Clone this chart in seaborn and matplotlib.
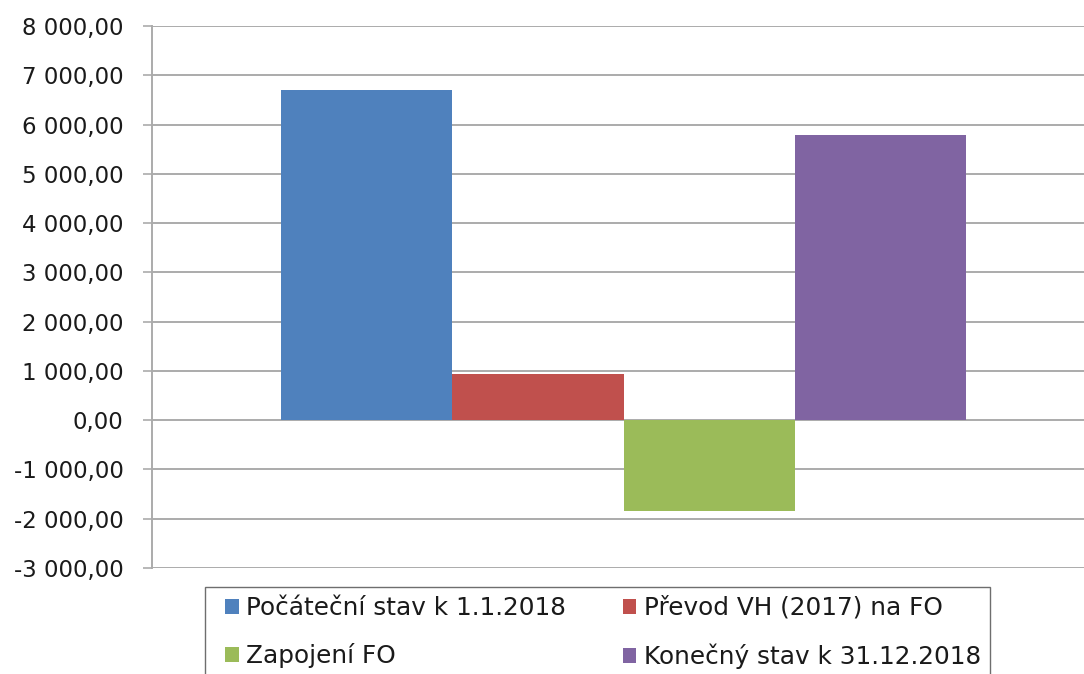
import pandas as pd
import matplotlib
matplotlib.use('Agg')
import matplotlib.pyplot as plt
from matplotlib.patches import Rectangle
from matplotlib.ticker import FuncFormatter, MultipleLocator
import seaborn as sns

# Values
series = ['Počáteční stav k 1.1.2018', 'Převod VH (2017) na FO',
          'Zapojení FO', 'Konečný stav k 31.12.2018']
values = [6700, 947, -1852, 5795]
colors = ['#4F81BD', '#C0504D', '#9BBB59', '#8064A2']

df = pd.DataFrame({'cat': [''] * len(series), 'series': series, 'value': values})

sns.set_theme(style='white')
plt.rcParams['font.family'] = ['DejaVu Sans']

fig = plt.figure(figsize=(10.84, 6.74), dpi=100)
ax = fig.add_axes([152 / 1084, 1 - 568 / 674, 1 - 152 / 1084, (568 - 26) / 674])

sns.barplot(data=df, x='cat', y='value', hue='series', hue_order=series,
            palette=colors, saturation=1, width=0.8, linewidth=0, ax=ax)

ax.set_ylim(-3000, 8000)
ax.set_xlim(-0.551, 0.538)
ax.yaxis.set_major_locator(MultipleLocator(1000))


def cz_fmt(v, pos):
    # Czech style: space as thousands separator, comma as decimal mark
    return f'{v:,.2f}'.replace(',', ' ').replace('.', ',')


ax.yaxis.set_major_formatter(FuncFormatter(cz_fmt))
ax.grid(axis='y', color='#ababab', linewidth=1.4)
ax.set_axisbelow(True)
for side in ['top', 'right', 'bottom']:
    ax.spines[side].set_visible(False)
ax.spines['left'].set_color('#ababab')
ax.spines['left'].set_linewidth(1.4)
ax.tick_params(axis='y', left=True, length=6.5, width=1.2, color='#ababab',
               labelsize=16.5, labelcolor='#1a1a1a', pad=14)
ax.tick_params(axis='x', bottom=False, labelbottom=False)
ax.set_xlabel('')
ax.set_ylabel('')

handles, labels = ax.get_legend_handles_labels()
ax.get_legend().remove()
# legend fills column by column; reorder so rows read like the reference
order = [0, 2, 1, 3]
leg = fig.legend([handles[i] for i in order], [labels[i] for i in order],
                 ncol=2, loc='upper left',
                 bbox_to_anchor=(225 / 1084, 1 - 596 / 674),
                 bbox_transform=fig.transFigure,
                 fontsize=17.8, frameon=False,
                 handlelength=0.55, handleheight=0.55, handletextpad=0.3,
                 columnspacing=2.3, labelspacing=0.95, borderpad=0,
                 borderaxespad=0)
for t in leg.get_texts():
    t.set_color('#1a1a1a')

# legend box, running off the bottom edge like in the reference
fig.patches.append(Rectangle((205 / 1084, -0.05), (990 - 205) / 1084,
                             0.05 + 1 - 587 / 674, transform=fig.transFigure,
                             fill=False, edgecolor='#6e6e6e', linewidth=1.0))

fig.savefig('out.png', dpi=100)
